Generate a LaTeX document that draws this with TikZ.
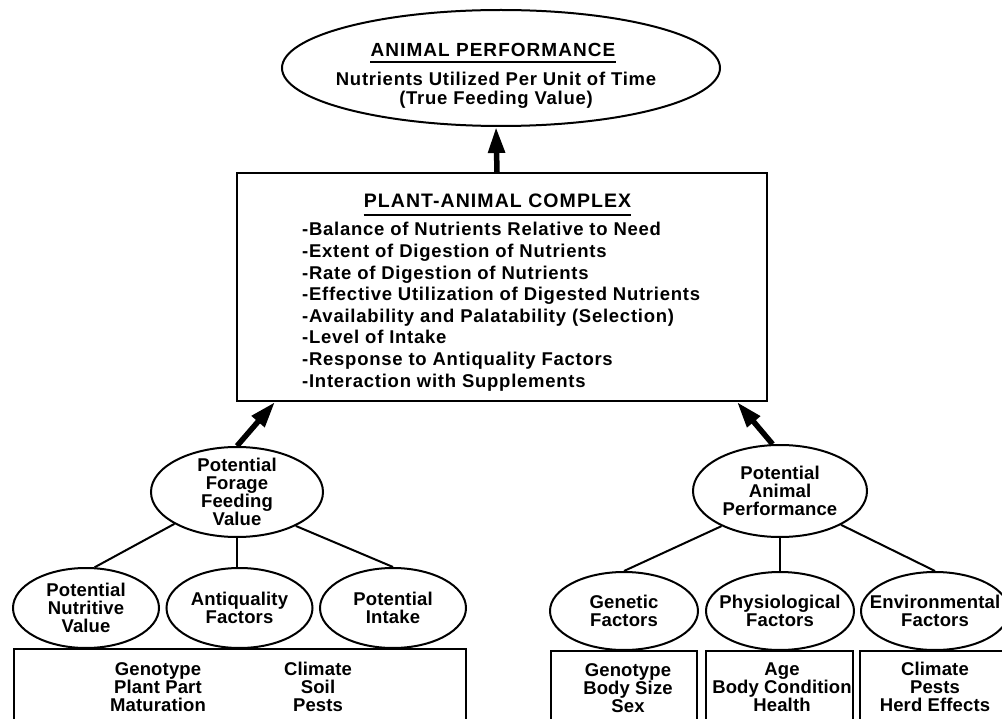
\documentclass[tikz,border=0pt]{standalone}
\usepackage{fontspec}
\setmainfont{Liberation Sans}
\newfontfamily\ftitle{Liberation Sans}[LetterSpace=5.5]
\newfontfamily\fntlist{Liberation Sans}[LetterSpace=4]
\newfontfamily\fntplain{Liberation Sans}[LetterSpace=0.8]
\usetikzlibrary{shapes.geometric,arrows.meta}
\begin{document}
\begin{tikzpicture}[x=1pt,y=-1pt,
  ell/.style={ellipse, draw, line width=2pt, inner sep=0pt},
  bx/.style={rectangle, draw, line width=2pt, inner sep=0pt, anchor=north west},
  lbl/.style={inner sep=0pt, align=center, font=\fntplain\bfseries\fontsize{18.5}{18}\selectfont},
  tit/.style={inner sep=0pt, font=\ftitle\bfseries\fontsize{19}{19}\selectfont},
  ttx/.style={inner sep=0pt, font=\fntlist\bfseries\fontsize{18.5}{18}\selectfont},
  lst/.style={inner sep=0pt, font=\fntlist\bfseries\fontsize{18.5}{18}\selectfont},
  conn/.style={line width=2pt},
  uline/.style={line width=2pt},
  bigarrow/.style={line width=5.5pt, -{Triangle[length=26pt,width=16pt]}}]
\useasboundingbox (0,0) rectangle (1002,719);
\clip (0,0) rectangle (1002,719);
\fill[white] (0,0) rectangle (1002,719);

% top ellipse
\node[ell, minimum width=438pt, minimum height=116pt] (ap) at (501,68) {};
\node[tit, anchor=base] (apt) at (493,57) {ANIMAL PERFORMANCE};
\draw[uline] ([yshift=-5pt]apt.base west) -- ([yshift=-5pt]apt.base east);
\node[ttx, anchor=base] (ap1) at (496,86) {Nutrients Utilized Per Unit of Time};
\node[ttx, anchor=base] (ap2) at (496,104.5) {(True Feeding Value)};

% central box
\node[bx, minimum width=530pt, minimum height=228pt] (pc) at (236,172) {};
\node[tit, font=\ftitle\bfseries\fontsize{19.5}{19.5}\selectfont, anchor=base] (pct) at (497.5,208) {PLANT-ANIMAL COMPLEX};
\draw[uline] ([yshift=-7.5pt]pct.base west) -- ([yshift=-7.5pt]pct.base east);
\foreach \t [count=\i] in {Balance of Nutrients Relative to Need,
  Extent of Digestion of Nutrients,
  Rate of Digestion of Nutrients,
  Effective Utilization of Digested Nutrients,
  Availability and Palatability (Selection),
  Level of Intake,
  Response to Antiquality Factors,
  Interaction with Supplements}
  \node[lst, anchor=base west] (l\i) at (302,{236+21.6*(\i-1)}) {-\t};

\draw[bigarrow] ([xshift=-5pt]pc.north) -- ([xshift=-5pt]ap.south);

% left branch
\node[ell, minimum width=172pt, minimum height=90pt] (pf) at (237,492) {};
\node[lbl] (pft) at (pf) {Potential\\Forage\\Feeding\\Value};
\coordinate (pcL) at ([xshift=39pt]pc.south west);
\draw[bigarrow] (pf.north) -- (pcL);

\node[ell, minimum width=146pt, minimum height=80pt] (pnv) at (86,608) {};
\node[lbl] (pnvt) at (pnv) {Potential\\Nutritive\\Value};
\node[ell, minimum width=146pt, minimum height=80pt] (aq) at (239.5,608) {};
\node[lbl] (aqt) at (aq) {Antiquality\\Factors};
\node[ell, minimum width=146pt, minimum height=80pt] (pin) at (393,608) {};
\node[lbl] (pint) at (pin) {Potential\\Intake};

\draw[conn] (pf.-153) -- (pnv.78);
\draw[conn] (pf.south) -- (pf.south |- aq.north);
\draw[conn] (pf.-30) -- (pin.north);

\node[bx, minimum width=452pt, minimum height=120pt] (b1) at (13,648) {};
\node[lbl] (t1) at (158,687) {Genotype\\Plant Part\\Maturation};
\node[lbl] (t2) at (318,687) {Climate\\Soil\\Pests};

% right branch
\node[ell, minimum width=174pt, minimum height=92pt] (pap) at (780,491) {};
\node[lbl] (papt) at (pap) {Potential\\Animal\\Performance};
\coordinate (pcR) at ([xshift=-31pt]pc.south east);
\draw[bigarrow] (pap.99) -- (pcR);

\node[ell, minimum width=148pt, minimum height=78pt] (gf) at (624,611) {};
\node[lbl] (gft) at (gf) {Genetic\\Factors};
\node[ell, minimum width=148pt, minimum height=78pt] (phf) at (780,611) {};
\node[lbl] (phft) at (phf) {Physiological\\Factors};
\node[ell, minimum width=148pt, minimum height=78pt] (enf) at (935,611) {};
\node[lbl] (enft) at (enf) {Environmental\\Factors};

\draw[conn] (pap.-149) -- (gf.north);
\draw[conn] (pap.south) -- (phf.north);
\draw[conn] (pap.-29) -- (enf.north);

\node[bx, minimum width=146pt, minimum height=120pt] (b2) at (550,650) {};
\node[bx, minimum width=147pt, minimum height=120pt] (b3) at (705,650) {};
\node[bx, minimum width=160pt, minimum height=120pt] (b4) at (859,650) {};
\node[lbl] (t3) at (628,688) {Genotype\\Body Size\\Sex};
\node[lbl] (t4) at (782,687) {Age\\Body Condition\\Health};
\node[lbl] (t5) at (935,687) {Climate\\Pests\\Herd Effects};
\end{tikzpicture}
\end{document}
